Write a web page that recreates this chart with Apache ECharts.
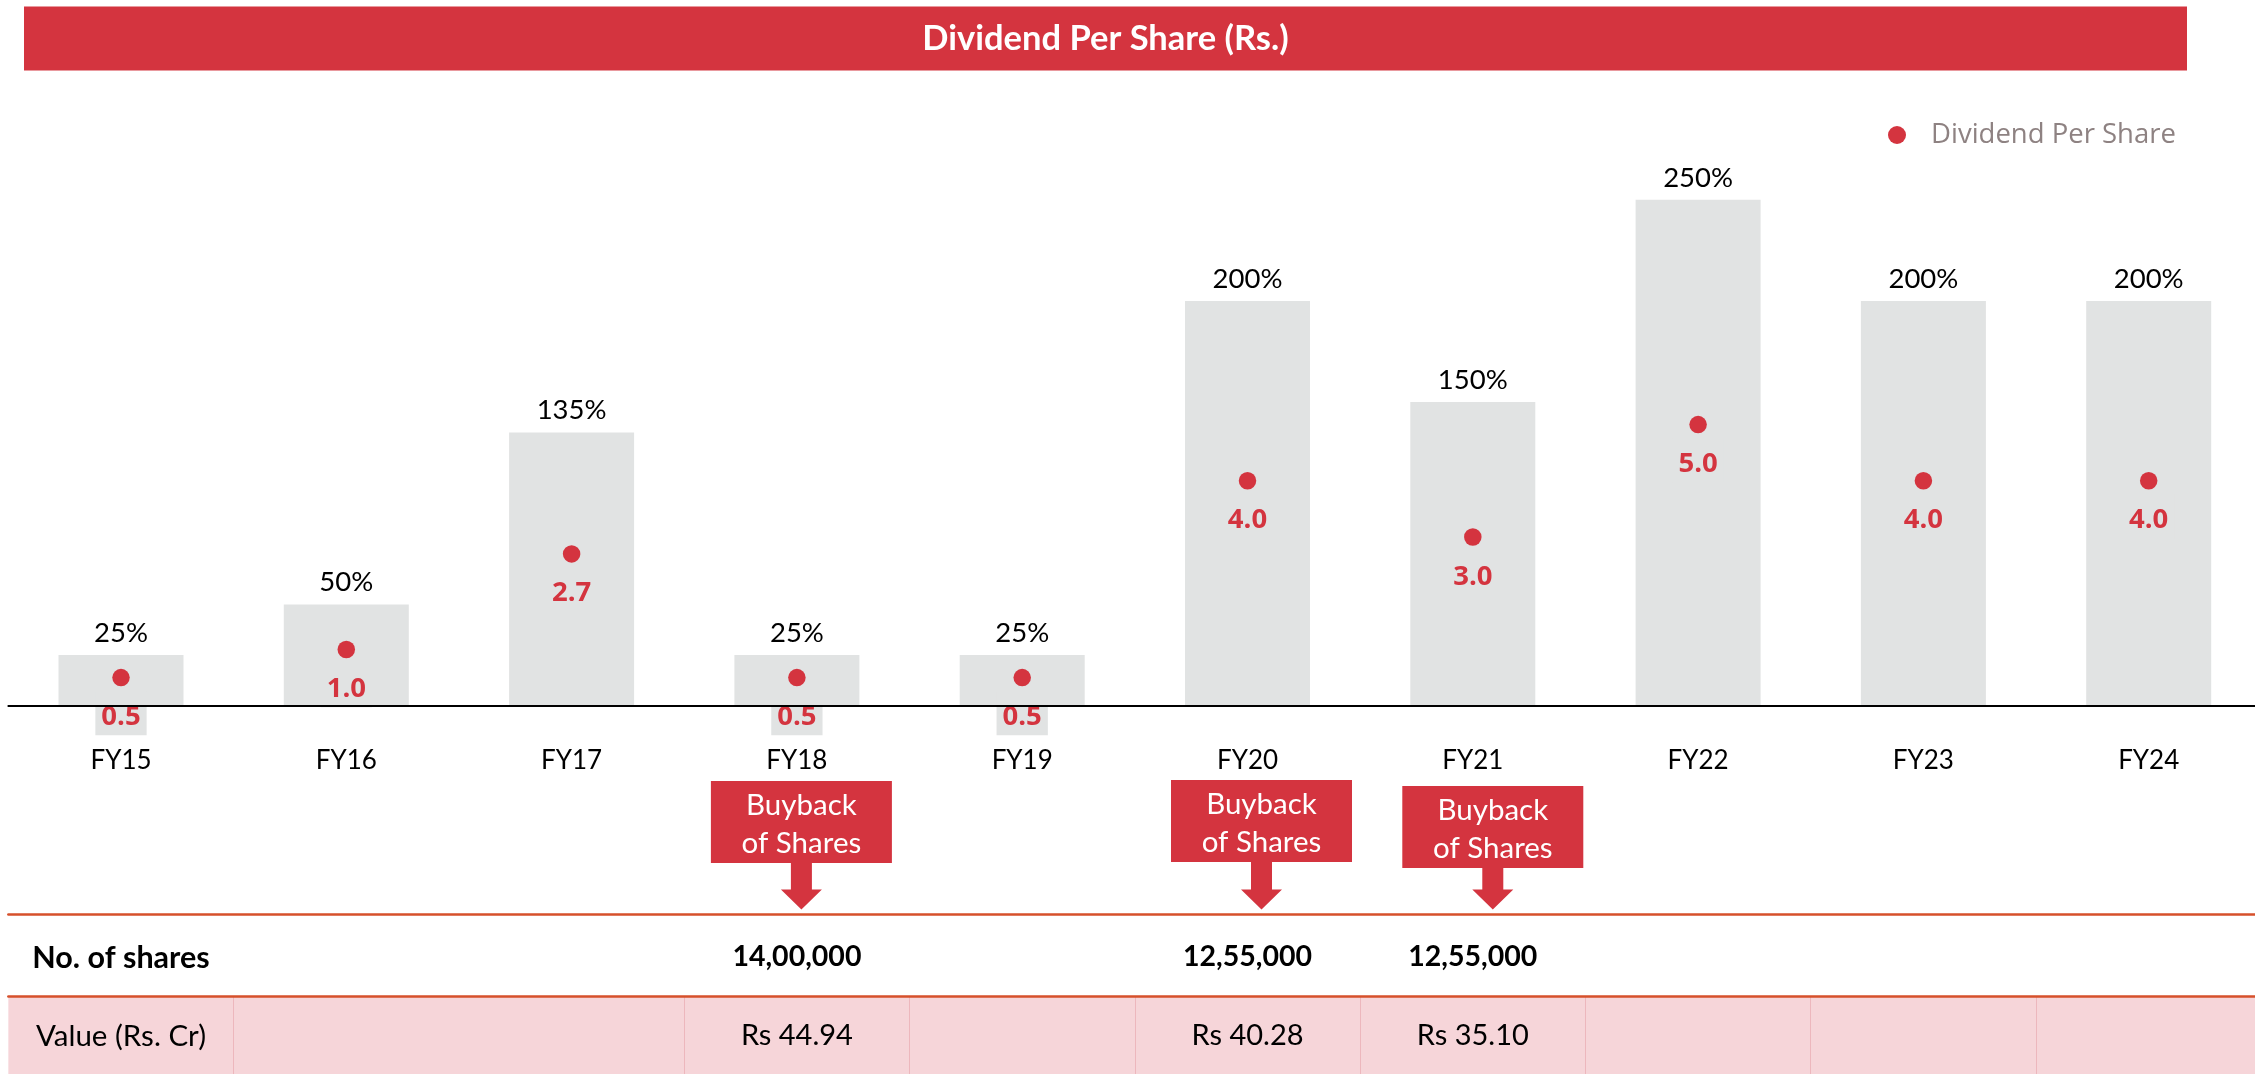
<!DOCTYPE html>
<html>
<head>
<meta charset="utf-8">
<script src="https://cdn.jsdelivr.net/npm/echarts@6/dist/echarts.min.js"></script>
<style>
  html, body { margin: 0; padding: 0; background: #ffffff; }
  #chart { width: 2255px; height: 1074px; }
</style>
</head>
<body>
<div id="chart"></div>
<script>
// Financial years on the category axis
const years = ['FY15', 'FY16', 'FY17', 'FY18', 'FY19', 'FY20', 'FY21', 'FY22', 'FY23', 'FY24'];
// Dividend declared, % of face value (grey bars)
const dividendPct = [25, 50, 135, 25, 25, 200, 150, 250, 200, 200];
// Dividend per share in Rs. (red dots)
const dividendPerShare = [0.5, 1.0, 2.7, 0.5, 0.5, 4.0, 3.0, 5.0, 4.0, 4.0];
// Share buyback table rows
const sharesBoughtBack = ['', '', '', '14,00,000', '', '12,55,000', '12,55,000', '', '', ''];
const buybackValueCr = ['', '', '', 'Rs 44.94', '', 'Rs 40.28', 'Rs 35.10', '', '', ''];
const buybackYears = ['FY18', 'FY20', 'FY21'];
const rowHeaders = ['No. of shares', 'Value (Rs. Cr)'];

// ---- styling / layout ----
const RED = '#D4343F';
const BAR_GREY = '#E1E3E3';
const RULE = '#D6502B';
const LATO = 'Lato, "Open Sans", sans-serif';
const OPEN = '"Open Sans", "Noto Sans", sans-serif';
const GRID_LEFT = 8.35, GRID_WIDTH = 2253;
// nudges for the buyback call-out boxes
const calloutLayout = [
  { dx: 4.5, top: 781 },
  { dx: 14, top: 780 },
  { dx: 20, top: 786 }
];

// the header column sits in the first category slot
const sharesRow = sharesBoughtBack.map((v, i) => (i === 0 ? rowHeaders[0] : v));
const valueRow = buybackValueCr.map((v, i) => (i === 0 ? rowHeaders[1] : v));
// header cell uses its own text style
const rowCell = (value, index) => (value === '' ? '' : (index === 0 ? '{h|' + value + '}' : '{v|' + value + '}'));

const chart = echarts.init(document.getElementById('chart'), null, { renderer: 'canvas' });

const option = {
  backgroundColor: '#ffffff',
  animation: false,
  graphic: [
    { type: 'rect', shape: { x: 24, y: 6.5, width: 2163, height: 64 }, style: { fill: RED }, z: 0 },
    {
      type: 'text', x: 1105.5, y: 39, z: 1,
      style: { text: 'Dividend Per Share (Rs.)', fill: '#ffffff', font: 'bold 34.5px ' + LATO, align: 'center', verticalAlign: 'middle' }
    }
  ],
  legend: {
    data: ['Dividend Per Share'],
    left: 1888, top: 121, padding: 0,
    icon: 'circle', itemWidth: 58, itemHeight: 18,
    textStyle: { fontFamily: OPEN, fontSize: 27.5, color: '#8E8282' }
  },
  grid: [
    { left: GRID_LEFT, width: GRID_WIDTH, top: 199.7, height: 506, outerBoundsMode: 'none', containLabel: false },
    { left: GRID_LEFT, width: GRID_WIDTH, top: 996, height: 78, show: true, backgroundColor: '#F6D5D9', borderWidth: 0, outerBoundsMode: 'none', containLabel: false }
  ],
  xAxis: [
    {
      type: 'category', gridIndex: 0, data: years, position: 'bottom', z: 10,
      axisLine: { show: true, onZero: false, lineStyle: { color: '#000000', width: 2 } },
      axisTick: { show: false }, splitLine: { show: false },
      axisLabel: { interval: 0, margin: 42, fontFamily: LATO, fontSize: 26, color: '#000000' }
    },
    {
      type: 'category', gridIndex: 0, data: sharesRow, position: 'bottom', offset: 209, z: 10,
      axisLine: { show: true, onZero: false, lineStyle: { color: RULE, width: 2.5 } },
      axisTick: { show: false }, splitLine: { show: false },
      axisLabel: {
        interval: 0, margin: 28, color: '#000000', formatter: rowCell,
        rich: {
          h: { fontFamily: LATO, fontSize: 30.5, fontWeight: 'bold', color: '#000000' },
          v: { fontFamily: LATO, fontSize: 28.5, fontWeight: 'bold', color: '#000000' }
        }
      }
    },
    {
      type: 'category', gridIndex: 1, data: valueRow, position: 'top', z: 10,
      axisLine: { show: true, onZero: false, lineStyle: { color: RULE, width: 2.5 } },
      axisTick: { show: false },
      splitLine: {
        show: true,
        interval: (idx) => idx !== 0 && idx !== 2,
        lineStyle: { color: '#EDB7BD', width: 1 }
      },
      axisLabel: {
        inside: true, interval: 0, margin: 25, color: '#000000', formatter: rowCell,
        rich: {
          h: { fontFamily: LATO, fontSize: 29.5, color: '#000000' },
          v: { fontFamily: LATO, fontSize: 29, color: '#000000' }
        }
      }
    }
  ],
  yAxis: [
    { type: 'value', gridIndex: 0, min: 0, max: 250, show: false, splitLine: { show: false } },
    { type: 'value', gridIndex: 0, min: 0, max: 9, show: false, splitLine: { show: false } },
    { type: 'value', gridIndex: 1, min: 0, max: 1, show: false, splitLine: { show: false } }
  ],
  series: [
    {
      name: 'Dividend %', type: 'bar', xAxisIndex: 0, yAxisIndex: 0,
      data: dividendPct, barWidth: 125,
      itemStyle: { color: BAR_GREY },
      label: {
        show: true, position: 'top', distance: 8,
        formatter: '{c}%', fontFamily: LATO, fontSize: 27.5, color: '#000000'
      }
    },
    {
      name: 'Dividend Per Share', type: 'scatter', xAxisIndex: 0, yAxisIndex: 1,
      data: dividendPerShare, symbol: 'circle', symbolSize: 17.5,
      itemStyle: { color: RED, opacity: 1 },
      label: {
        show: true, position: 'bottom', distance: 7,
        formatter: (p) => '{t|}\n{v|' + p.value.toFixed(1) + '}',
        rich: {
          t: { width: 1.5, height: 5, backgroundColor: '#7F7F7F' },
          v: {
            fontFamily: OPEN, fontWeight: 'bold', fontSize: 27.5, color: RED,
            backgroundColor: BAR_GREY, padding: [12, 6, 4, 6], lineHeight: 30
          }
        }
      }
    },
    {
      name: 'Buyback', type: 'custom', xAxisIndex: 0, yAxisIndex: 0, clip: false, z: 5,
      data: buybackYears.map((y) => [y, 0]),
      renderItem: (params, api) => {
        const k = params.dataIndexInside;
        const lay = calloutLayout[k];
        const x = api.coord([api.value(0), 0])[0] + lay.dx;
        const w = 181, h = 82, top = lay.top, tipY = 909.5;
        return {
          type: 'group',
          children: [
            { type: 'rect', shape: { x: x - w / 2, y: top, width: w, height: h }, style: { fill: RED } },
            {
              type: 'polygon',
              shape: { points: [[x - 10.5, top + h - 1], [x + 10.5, top + h - 1], [x + 10.5, tipY - 20], [x + 20.5, tipY - 20], [x, tipY], [x - 20.5, tipY - 20], [x - 10.5, tipY - 20]] },
              style: { fill: RED }
            },
            {
              type: 'text', x: x, y: top + h / 2 + 2,
              style: { text: 'Buyback\nof Shares', fill: '#ffffff', font: '29.5px ' + LATO, align: 'center', verticalAlign: 'middle', lineHeight: 38 }
            }
          ]
        };
      }
    }
  ]
};

chart.setOption(option);
</script>
</body>
</html>
